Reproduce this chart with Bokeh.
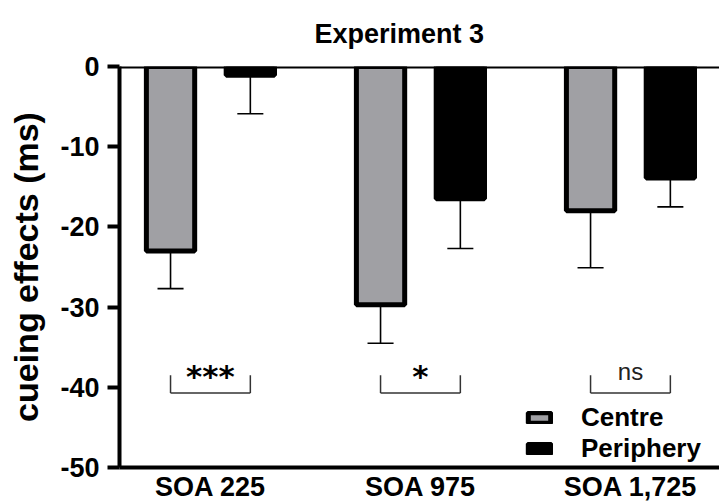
from bokeh.plotting import figure
from bokeh.models import ColumnDataSource, FixedTicker, Span, Legend, LegendItem, Range1d
from bokeh.core.properties import value
from bokeh.embed import file_html
from bokeh.resources import INLINE

# ---- data ----
title_text = "Experiment 3"
conditions = ["SOA 225", "SOA 975", "SOA 1,725"]
centre_mean = [-23.0, -29.7, -18.0]
centre_err = [4.7, 4.8, 7.1]
periph_mean = [-1.1, -16.5, -13.9]
periph_err = [4.8, 6.2, 3.6]
sig_labels = ["***", "*", "ns"]
series_names = ["Centre", "Periphery"]
y_ticks = [0, -10, -20, -30, -40, -50]
y_tick_labels = ["0", "-10", "-20", "-30", "-40", "-50"]

# ---- layout constants ----
offset = 0.19
bar_w = 0.23
cap_w = 0.124
FONT = "Liberation Sans"
centre_color = "#a0a0a4"

xs = list(range(len(conditions)))
cx = [x - offset for x in xs]
px = [x + offset for x in xs]

p = figure(width=719, height=504, output_backend="svg", toolbar_location=None,
           x_range=Range1d(-0.433, 2.424), y_range=Range1d(-50, 0),
           min_border_left=119, min_border_right=0, min_border_top=66,
           min_border_bottom=37)
p.outline_line_color = None
p.grid.visible = False
p.background_fill_color = "white"
p.border_fill_color = "white"

p.title.text = title_text
p.title.text_font = FONT
p.title.text_font_size = "27px"
p.title.text_font_style = "bold"
p.title.text_color = "black"
p.title.align = "left"
p.title.vertical_align = "top"
p.title.offset = 195
p.title.standoff = 32

# error bars (downward only)
def err_segments(xpos, mean, err):
    y1 = [m - e for m, e in zip(mean, err)]
    return dict(x=xpos, y0=mean, y1=y1,
                xl=[x - cap_w / 2 for x in xpos], xr=[x + cap_w / 2 for x in xpos])

for xpos, mean, err in [(cx, centre_mean, centre_err), (px, periph_mean, periph_err)]:
    src = ColumnDataSource(err_segments(xpos, mean, err))
    p.segment(x0="x", y0="y0", x1="x", y1="y1", source=src, line_color="black", line_width=1.6)
    p.segment(x0="xl", y0="y1", x1="xr", y1="y1", source=src, line_color="black", line_width=1.6)

r_c = p.vbar(x=cx, top=centre_mean, bottom=0, width=bar_w, fill_color=centre_color,
             line_color="black", line_width=5)
r_p = p.vbar(x=px, top=periph_mean, bottom=0, width=bar_w, fill_color="black",
             line_color="black", line_width=5)

p.add_layout(Span(location=0, dimension="width", line_color="black", line_width=4))

# significance brackets
br_top, br_bot = -38.5, -40.7
bsrc = ColumnDataSource(dict(x0=cx, x1=px))
p.segment(x0="x0", y0=br_top, x1="x0", y1=br_bot, source=bsrc, line_color="#333333", line_width=1.5)
p.segment(x0="x1", y0=br_top, x1="x1", y1=br_bot, source=bsrc, line_color="#333333", line_width=1.5)
p.segment(x0="x0", y0=br_bot, x1="x1", y1=br_bot, source=bsrc, line_color="#333333", line_width=1.5)

stars = [(x, s) for x, s in zip(xs, sig_labels) if s.startswith("*")]
others = [(x, s) for x, s in zip(xs, sig_labels) if not s.startswith("*")]
p.text(x=[s[0] for s in stars], y=-38.55, text=[s[1] for s in stars],
       text_font=value("DejaVu Sans"), text_font_style="bold", text_font_size="31px",
       text_align="center", text_baseline="alphabetic", text_color="black")
p.text(x=[s[0] for s in others], y=-38.0, text=[s[1] for s in others],
       text_font=value(FONT), text_font_size="24px",
       text_align="center", text_baseline="alphabetic", text_color="#222222")

# axes
ya = p.yaxis[0]
ya.ticker = FixedTicker(ticks=y_ticks)
ya.major_label_overrides = {t: l for t, l in zip(y_ticks, y_tick_labels)}
ya.minor_tick_line_color = None
ya.axis_line_width = 4
ya.major_tick_line_width = 4
ya.major_tick_out = 12
ya.major_tick_in = 0
ya.major_label_standoff = 8
ya.major_label_text_font = FONT
ya.major_label_text_font_size = "27px"
ya.major_label_text_font_style = "bold"
ya.major_label_text_color = "black"
ya.axis_label = "cueing effects (ms)"
ya.axis_label_text_font = FONT
ya.axis_label_text_font_size = "34px"
ya.axis_label_text_font_style = "bold"
ya.axis_label_text_color = "black"
ya.axis_label_standoff = 12

xa = p.xaxis[0]
xa.ticker = FixedTicker(ticks=xs)
xa.major_label_overrides = {x: c for x, c in zip(xs, conditions)}
xa.minor_tick_line_color = None
xa.major_tick_line_color = None
xa.major_tick_out = 0
xa.major_tick_in = 0
xa.axis_line_width = 4
xa.major_label_standoff = 4
xa.major_label_text_font = FONT
xa.major_label_text_font_size = "27px"
xa.major_label_text_font_style = "bold"
xa.major_label_text_color = "black"

legend = Legend(items=[LegendItem(label=series_names[0], renderers=[r_c]),
                       LegendItem(label=series_names[1], renderers=[r_p])],
                location=(406, 3), padding=0, margin=0, spacing=0,
                glyph_width=28, glyph_height=13, label_height=24, label_standoff=28,
                label_text_font=FONT, label_text_font_size="26px", label_text_font_style="bold",
                label_text_color="black",
                border_line_color=None, background_fill_alpha=0)
p.add_layout(legend)

open("out.html", "w").write(file_html(p, INLINE))
